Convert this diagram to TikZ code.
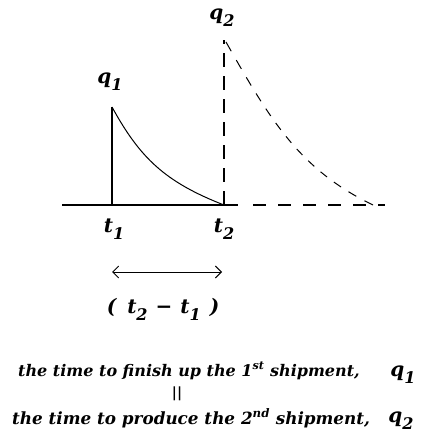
\documentclass[tikz,border=0pt]{standalone}
\usepackage{fontspec}
\setmainfont{DejaVu Serif}
\usetikzlibrary{arrows.meta}
\newcommand{\lowsub}[2]{\raisebox{-0.35em}{\fontsize{#1}{#1}\selectfont #2}}
\tikzset{
  lbl/.style={font=\fontsize{20}{22}\selectfont\bfseries\itshape, inner sep=0pt, anchor=base},
  txt/.style={font=\fontsize{16}{18}\selectfont\bfseries\itshape, inner sep=0pt, anchor=base west},
  axis/.style={line width=1.3pt},
  curve/.style={line width=1pt},
}
\begin{document}
\begin{tikzpicture}[x=1pt,y=1pt]
\useasboundingbox (0,0) rectangle (422,-443);
% coordinates
\coordinate (L) at (62,-205);
\coordinate (T1) at (112,-205);
\coordinate (P1) at (112,-107);
\coordinate (T2) at (224,-205);
\coordinate (P2) at (224,-40);
\coordinate (S) at (238,-205);
\coordinate (D) at (253,-205);
\coordinate (E) at (385,-205);
\coordinate (Q2) at (226,-42);
\coordinate (C2) at (373,-205);
% axis
\draw[axis] (L) -- (S);
\draw[axis, dash pattern=on 13pt off 12pt] (D) -- (E);
% first cycle
\draw[axis] (T1) -- (P1);
\draw[curve] (P1) .. controls (140,-158) and (165,-182) .. (T2);
% second cycle
\draw[axis, dash pattern=on 14pt off 9pt] (T2) -- (P2);
\foreach \k in {0,...,12}{
  \pgfmathsetmacro\ta{2*\k/25}
  \pgfmathsetmacro\tb{(2*\k+1)/25}
  \path (Q2) .. controls (270,-120) and (300,-170) .. (C2)
        coordinate[pos=\ta] (da) coordinate[pos=\tb] (db);
  \draw[curve] (da) -- (db);
}
% labels
\node[lbl] (q1) at (110,-84) {q\lowsub{16}{1}};
\node[lbl] (q2) at (222,-20) {q\lowsub{16}{2}};
\node[lbl] (t1) at (114,-232) {t\lowsub{16}{1}};
\node[lbl] (t2) at (224,-232) {t\lowsub{16}{2}};
% interval arrow
\coordinate (A1) at (112,-272);
\coordinate (A2) at (222,-272);
\draw[line width=0.9pt, {Straight Barb[length=6pt,width=12pt]}-{Straight Barb[length=6pt,width=12pt]}] (A1) -- (A2);
\node[lbl] (diff) at (163,-313) {(\hspace{11pt}t\lowsub{16}{2}\hspace{8pt}−\hspace{8pt}t\lowsub{16}{1}\hspace{9pt})};
% bottom text
\node[txt] (line1) at (18,-376) {the time to finish up the 1\textsuperscript{st} shipment,};
\node[lbl] (qq1) at (403,-376) {q\lowsub{16}{1}};
\node[font=\fontsize{14}{14}\selectfont\bfseries, inner sep=0pt] (eq) at (177,-394) {||};
\node[txt, font=\fontsize{16.8}{18}\selectfont\bfseries\itshape] (line2) at (12,-424) {the time to produce the 2\textsuperscript{nd} shipment,};
\node[lbl] (qq2) at (401,-422) {q\lowsub{16}{2}};
\end{tikzpicture}
\end{document}
